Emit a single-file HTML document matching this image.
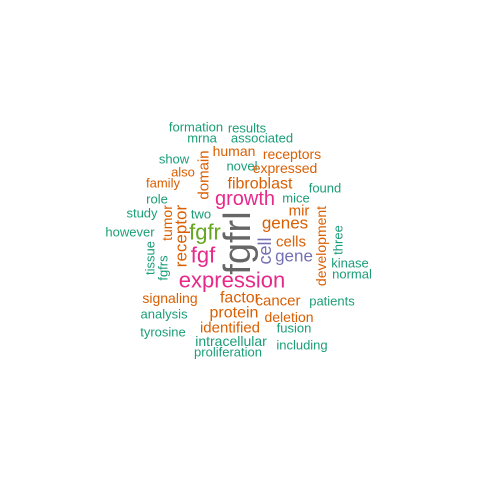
<!DOCTYPE html>
<html><head><meta charset="utf-8"><style>
html,body{margin:0;padding:0;background:#fff;}
svg{display:block;font-family:"Liberation Sans",Arial,sans-serif;}
</style></head><body>
<svg id="cloud" width="480" height="480" viewBox="0 0 480 480"></svg>
<script>
const words=["formation","results","mrna","associated","human","receptors","show","novel","expressed","also","family","fibroblast","found","domain","growth","role","mice","study","two","mir","tumor","receptor","development","genes","fgfr","however","three","cell","cells","gene","tissue","fgfrs","fgf","kinase","normal","expression","signaling","factor","cancer","patients","analysis","protein","deletion","identified","tyrosine","fusion","intracellular","including","proliferation","fgfrl"];
const sizes=[13,13,13,13,14,14,13,13,14,13,13,16,13,15,20,13,13,13,13,15,14,17,14,17,22,13,13,18,15,17,13,13,22,13,13,22,14,16,15,13,13,16,14,15,13,13,14,13,13,38];
const colors=["g","g","g","g","o","o","g","g","o","o","o","o","g","o","p","g","g","g","g","o","o","o","o","o","l","g","g","u","o","u","g","g","p","g","g","p","o","o","o","g","g","o","o","o","g","g","g","g","g","k"];
const px=[196,247,202,262,234,292,174,242,285,183,163,260,325,204,245,157,296,142,201,299,167,181,321,285,205,130,338,265,291,294,150,163,203,350,352,232,170,240,278,332,164,234,289,230,163,294,231,302,228,238];
const py=[127,128,138,138,151,154,159,166,168,172,183,184,188,175,199,199,198,213,214,211,223,236,246,223,232,232,240,251,242,256,258,268,255,263,274,280,298,298,301,301,314,313,317,328,332,328,341,345,352,243];
const vert=[0,0,0,0,0,0,0,0,0,0,0,0,0,1,0,0,0,0,0,0,1,1,1,0,0,0,1,1,0,0,1,1,0,0,0,0,0,0,0,0,0,0,0,0,0,0,0,0,0,1];
const pal={g:"#1b9e77",o:"#d95f02",p:"#e7298a",l:"#66a61e",u:"#7570b3",k:"#666666"};
const svg=document.getElementById('cloud');
words.forEach((w,i)=>{
  const t=document.createElementNS("http://www.w3.org/2000/svg","text");
  
  
  t.setAttribute('x',px[i]);t.setAttribute('y',py[i]);
  t.setAttribute('text-anchor','middle');
  t.setAttribute('dominant-baseline','central');
  t.setAttribute('font-size',sizes[i]);
  t.setAttribute('fill',pal[colors[i]]);
  if(vert[i])t.setAttribute('transform','rotate(-90 '+px[i]+' '+py[i]+')');
  t.textContent=w;
  svg.appendChild(t);
});
</script>
</body></html>
